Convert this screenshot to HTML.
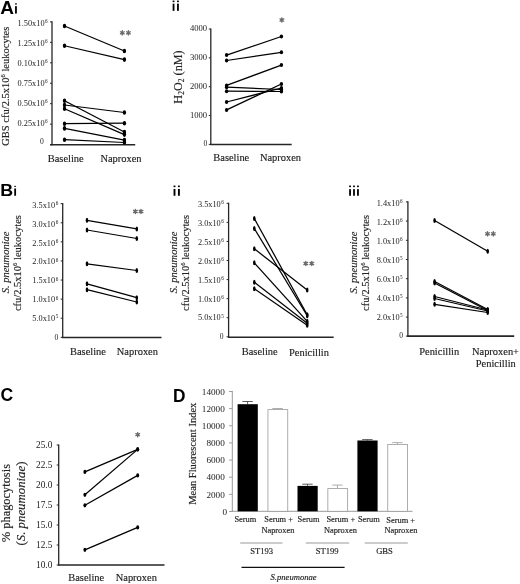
<!DOCTYPE html>
<html><head><meta charset="utf-8"><style>
html,body{margin:0;padding:0;background:#fff;}
svg{display:block;will-change:transform;}
</style></head><body>
<svg width="520" height="584" viewBox="0 0 520 584">
<rect width="520" height="584" fill="#fff"/>
<text x="0" y="0" font-family='"Liberation Sans", sans-serif' font-size="17.6" font-weight="bold" fill="#000" transform="translate(0.3,13.6) scale(1.08,1)">A</text>
<rect x="15.05" y="3.35" width="1.80" height="1.20" fill="#000"/>
<rect x="15.05" y="6.15" width="1.80" height="7.40" fill="#000"/>
<line x1="52" y1="21.299999999999997" x2="52" y2="145.2" stroke="#262626" stroke-width="1.3"/>
<line x1="50" y1="21.9" x2="52" y2="21.9" stroke="#262626" stroke-width="1.0"/>
<text x="47.65" y="25.91" font-family='"Liberation Serif", serif' font-size="8.3" text-anchor="end" font-weight="normal" font-style="normal" fill="#222" stroke="#222" stroke-width="0.0">1.50x10<tspan font-size="5.2" dy="-2.65" dx="0.5">6</tspan></text>
<line x1="50" y1="42.349999999999994" x2="52" y2="42.349999999999994" stroke="#262626" stroke-width="1.0"/>
<text x="47.65" y="45.87" font-family='"Liberation Serif", serif' font-size="8.3" text-anchor="end" font-weight="normal" font-style="normal" fill="#222" stroke="#222" stroke-width="0.0">1.25x10<tspan font-size="5.2" dy="-2.65" dx="0.5">6</tspan></text>
<line x1="50" y1="62.8" x2="52" y2="62.8" stroke="#262626" stroke-width="1.0"/>
<text x="47.65" y="65.83" font-family='"Liberation Serif", serif' font-size="8.3" text-anchor="end" font-weight="normal" font-style="normal" fill="#222" stroke="#222" stroke-width="0.0">0.10x10<tspan font-size="5.2" dy="-2.65" dx="0.5">6</tspan></text>
<line x1="50" y1="83.25" x2="52" y2="83.25" stroke="#262626" stroke-width="1.0"/>
<text x="47.65" y="85.79" font-family='"Liberation Serif", serif' font-size="8.3" text-anchor="end" font-weight="normal" font-style="normal" fill="#222" stroke="#222" stroke-width="0.0">0.75x10<tspan font-size="5.2" dy="-2.65" dx="0.5">6</tspan></text>
<line x1="50" y1="103.69999999999999" x2="52" y2="103.69999999999999" stroke="#262626" stroke-width="1.0"/>
<text x="47.65" y="105.75" font-family='"Liberation Serif", serif' font-size="8.3" text-anchor="end" font-weight="normal" font-style="normal" fill="#222" stroke="#222" stroke-width="0.0">0.50x10<tspan font-size="5.2" dy="-2.65" dx="0.5">6</tspan></text>
<line x1="50" y1="124.15" x2="52" y2="124.15" stroke="#262626" stroke-width="1.0"/>
<text x="47.65" y="125.71" font-family='"Liberation Serif", serif' font-size="8.3" text-anchor="end" font-weight="normal" font-style="normal" fill="#222" stroke="#222" stroke-width="0.0">0.25x10<tspan font-size="5.2" dy="-2.65" dx="0.5">6</tspan></text>
<line x1="50" y1="144.6" x2="52" y2="144.6" stroke="#262626" stroke-width="1.0"/>
<text x="43.85" y="144.47" font-family='"Liberation Serif", serif' font-size="7.6" text-anchor="end" font-weight="normal" font-style="normal" fill="#222" stroke="#222" stroke-width="0.0">0</text>
<line x1="50.0" y1="144.8" x2="135.2" y2="144.8" stroke="#262626" stroke-width="1.6"/>
<line x1="64.5" y1="26" x2="124.4" y2="51" stroke="#000" stroke-width="1.25"/>
<line x1="64.5" y1="45.75" x2="124.4" y2="59.6" stroke="#000" stroke-width="1.25"/>
<line x1="64.5" y1="100.8" x2="124.4" y2="132" stroke="#000" stroke-width="1.25"/>
<line x1="64.5" y1="105" x2="124.4" y2="112.5" stroke="#000" stroke-width="1.25"/>
<line x1="64.5" y1="108.8" x2="124.4" y2="134.6" stroke="#000" stroke-width="1.25"/>
<line x1="64.5" y1="123.7" x2="124.4" y2="123.2" stroke="#000" stroke-width="1.25"/>
<line x1="64.5" y1="128.4" x2="124.4" y2="140.1" stroke="#000" stroke-width="1.25"/>
<line x1="64.5" y1="139.7" x2="124.4" y2="142.5" stroke="#000" stroke-width="1.25"/>
<ellipse cx="64.5" cy="26" rx="1.7" ry="2.3" fill="#000"/>
<ellipse cx="124.4" cy="51" rx="1.7" ry="2.3" fill="#000"/>
<ellipse cx="64.5" cy="45.75" rx="1.7" ry="2.3" fill="#000"/>
<ellipse cx="124.4" cy="59.6" rx="1.7" ry="2.3" fill="#000"/>
<ellipse cx="64.5" cy="100.8" rx="1.7" ry="2.3" fill="#000"/>
<ellipse cx="124.4" cy="132" rx="1.7" ry="2.3" fill="#000"/>
<ellipse cx="64.5" cy="105" rx="1.7" ry="2.3" fill="#000"/>
<ellipse cx="124.4" cy="112.5" rx="1.7" ry="2.3" fill="#000"/>
<ellipse cx="64.5" cy="108.8" rx="1.7" ry="2.3" fill="#000"/>
<ellipse cx="124.4" cy="134.6" rx="1.7" ry="2.3" fill="#000"/>
<ellipse cx="64.5" cy="123.7" rx="1.7" ry="2.3" fill="#000"/>
<ellipse cx="124.4" cy="123.2" rx="1.7" ry="2.3" fill="#000"/>
<ellipse cx="64.5" cy="128.4" rx="1.7" ry="2.3" fill="#000"/>
<ellipse cx="124.4" cy="140.1" rx="1.7" ry="2.3" fill="#000"/>
<ellipse cx="64.5" cy="139.7" rx="1.7" ry="2.3" fill="#000"/>
<ellipse cx="124.4" cy="142.5" rx="1.7" ry="2.3" fill="#000"/>
<path d="M122.30,30.70L122.30,34.90M124.12,31.75L120.48,33.85M124.12,33.85L120.48,31.75" stroke="#6a6a6a" stroke-width="1.4" stroke-linecap="round" fill="none"/>
<path d="M128.40,30.70L128.40,34.90M130.22,31.75L126.58,33.85M130.22,33.85L126.58,31.75" stroke="#6a6a6a" stroke-width="1.4" stroke-linecap="round" fill="none"/>
<text x="65.7" y="162.2" font-family='"Liberation Serif", serif' font-size="10.45" text-anchor="middle" font-weight="normal" font-style="normal" fill="#222"  stroke="#222" stroke-width="0.15">Baseline</text>
<text x="121.0" y="162.2" font-family='"Liberation Serif", serif' font-size="10.45" text-anchor="middle" font-weight="normal" font-style="normal" fill="#222"  stroke="#222" stroke-width="0.15">Naproxen</text>
<text x="0" y="0" font-family='"Liberation Serif", serif' font-size="10.5" text-anchor="middle" font-weight="normal" font-style="normal" fill="#222" transform="translate(8.6,86.2) rotate(-90)" stroke="#222" stroke-width="0.15">GBS cfu/2.5x10<tspan font-size="6.5" dy="-4">6</tspan><tspan dy="4"> leukocytes</tspan></text>
<rect x="172.65" y="0.55" width="1.80" height="1.60" fill="#000"/>
<rect x="172.65" y="3.65" width="1.80" height="7.20" fill="#000"/>
<rect x="177.05" y="0.55" width="1.80" height="1.60" fill="#000"/>
<rect x="177.05" y="3.65" width="1.80" height="7.20" fill="#000"/>
<line x1="210.8" y1="28.4" x2="210.8" y2="145.0" stroke="#262626" stroke-width="1.3"/>
<line x1="208.8" y1="29.0" x2="210.8" y2="29.0" stroke="#262626" stroke-width="1.0"/>
<text x="207.1" y="30.61" font-family='"Liberation Serif", serif' font-size="8.6" text-anchor="end" font-weight="normal" font-style="normal" fill="#222" stroke="#222" stroke-width="0.0">4000</text>
<line x1="208.8" y1="57.85" x2="210.8" y2="57.85" stroke="#262626" stroke-width="1.0"/>
<text x="207.1" y="59.71" font-family='"Liberation Serif", serif' font-size="8.6" text-anchor="end" font-weight="normal" font-style="normal" fill="#222" stroke="#222" stroke-width="0.0">3000</text>
<line x1="208.8" y1="86.7" x2="210.8" y2="86.7" stroke="#262626" stroke-width="1.0"/>
<text x="207.1" y="88.81" font-family='"Liberation Serif", serif' font-size="8.6" text-anchor="end" font-weight="normal" font-style="normal" fill="#222" stroke="#222" stroke-width="0.0">2000</text>
<line x1="208.8" y1="115.55000000000001" x2="210.8" y2="115.55000000000001" stroke="#262626" stroke-width="1.0"/>
<text x="207.1" y="117.91" font-family='"Liberation Serif", serif' font-size="8.6" text-anchor="end" font-weight="normal" font-style="normal" fill="#222" stroke="#222" stroke-width="0.0">1000</text>
<line x1="208.8" y1="144.4" x2="210.8" y2="144.4" stroke="#262626" stroke-width="1.0"/>
<text x="207.35" y="146.27" font-family='"Liberation Serif", serif' font-size="7.6" text-anchor="end" font-weight="normal" font-style="normal" fill="#222" stroke="#222" stroke-width="0.0">0</text>
<line x1="210.2" y1="144.4" x2="291.7" y2="144.4" stroke="#262626" stroke-width="1.5"/>
<line x1="226.6" y1="55.1" x2="281.4" y2="36.5" stroke="#000" stroke-width="1.25"/>
<line x1="226.6" y1="60.5" x2="281.4" y2="52.3" stroke="#000" stroke-width="1.25"/>
<line x1="226.6" y1="85.4" x2="281.4" y2="65.1" stroke="#000" stroke-width="1.25"/>
<line x1="226.6" y1="87.2" x2="281.4" y2="89.5" stroke="#000" stroke-width="1.25"/>
<line x1="226.6" y1="91.2" x2="281.4" y2="91.5" stroke="#000" stroke-width="1.25"/>
<line x1="226.6" y1="102" x2="281.4" y2="88" stroke="#000" stroke-width="1.25"/>
<line x1="226.6" y1="109.9" x2="281.4" y2="84" stroke="#000" stroke-width="1.25"/>
<ellipse cx="226.6" cy="55.1" rx="1.7" ry="2.0" fill="#000"/>
<ellipse cx="281.4" cy="36.5" rx="1.7" ry="2.0" fill="#000"/>
<ellipse cx="226.6" cy="60.5" rx="1.7" ry="2.0" fill="#000"/>
<ellipse cx="281.4" cy="52.3" rx="1.7" ry="2.0" fill="#000"/>
<ellipse cx="226.6" cy="85.4" rx="1.7" ry="2.0" fill="#000"/>
<ellipse cx="281.4" cy="65.1" rx="1.7" ry="2.0" fill="#000"/>
<ellipse cx="226.6" cy="87.2" rx="1.7" ry="2.0" fill="#000"/>
<ellipse cx="281.4" cy="89.5" rx="1.7" ry="2.0" fill="#000"/>
<ellipse cx="226.6" cy="91.2" rx="1.7" ry="2.0" fill="#000"/>
<ellipse cx="281.4" cy="91.5" rx="1.7" ry="2.0" fill="#000"/>
<ellipse cx="226.6" cy="102" rx="1.7" ry="2.0" fill="#000"/>
<ellipse cx="281.4" cy="88" rx="1.7" ry="2.0" fill="#000"/>
<ellipse cx="226.6" cy="109.9" rx="1.7" ry="2.0" fill="#000"/>
<ellipse cx="281.4" cy="84" rx="1.7" ry="2.0" fill="#000"/>
<path d="M281.90,17.90L281.90,22.10M283.72,18.95L280.08,21.05M283.72,21.05L280.08,18.95" stroke="#6a6a6a" stroke-width="1.4" stroke-linecap="round" fill="none"/>
<text x="231.3" y="161.3" font-family='"Liberation Serif", serif' font-size="10.45" text-anchor="middle" font-weight="normal" font-style="normal" fill="#222"  stroke="#222" stroke-width="0.15">Baseline</text>
<text x="280.5" y="161.3" font-family='"Liberation Serif", serif' font-size="10.45" text-anchor="middle" font-weight="normal" font-style="normal" fill="#222"  stroke="#222" stroke-width="0.15">Naproxen</text>
<text x="0" y="0" font-family='"Liberation Serif", serif' font-size="12.2" text-anchor="middle" font-weight="normal" font-style="normal" fill="#222" transform="translate(181.6,77.0) rotate(-90)" stroke="#222" stroke-width="0.15">H<tspan font-size="7.6" dy="2.6">2</tspan><tspan dy="-2.6">O</tspan><tspan font-size="7.6" dy="2.6">2</tspan><tspan dy="-2.6"> (nM)</tspan></text>
<text x="0" y="0" font-family='"Liberation Sans", sans-serif' font-size="17.0" font-weight="bold" fill="#000" transform="translate(0.3,195.8) scale(1.05,1)">B</text>
<rect x="14.25" y="185.85" width="1.80" height="1.00" fill="#000"/>
<rect x="14.25" y="188.45" width="1.80" height="7.30" fill="#000"/>
<line x1="62.7" y1="203.1" x2="62.7" y2="337.90000000000003" stroke="#262626" stroke-width="1.3"/>
<line x1="60.7" y1="203.7" x2="62.7" y2="203.7" stroke="#262626" stroke-width="1.0"/>
<text x="58.25" y="207.81" font-family='"Liberation Serif", serif' font-size="8.3" text-anchor="end" font-weight="normal" font-style="normal" fill="#222" stroke="#222" stroke-width="0.0">3.5x10<tspan font-size="5.2" dy="-2.65" dx="0.5">6</tspan></text>
<line x1="60.7" y1="222.79" x2="62.7" y2="222.79" stroke="#262626" stroke-width="1.0"/>
<text x="58.25" y="226.69" font-family='"Liberation Serif", serif' font-size="8.3" text-anchor="end" font-weight="normal" font-style="normal" fill="#222" stroke="#222" stroke-width="0.0">3.0x10<tspan font-size="5.2" dy="-2.65" dx="0.5">6</tspan></text>
<line x1="60.7" y1="241.88" x2="62.7" y2="241.88" stroke="#262626" stroke-width="1.0"/>
<text x="58.25" y="245.57" font-family='"Liberation Serif", serif' font-size="8.3" text-anchor="end" font-weight="normal" font-style="normal" fill="#222" stroke="#222" stroke-width="0.0">2.5x10<tspan font-size="5.2" dy="-2.65" dx="0.5">6</tspan></text>
<line x1="60.7" y1="260.96999999999997" x2="62.7" y2="260.96999999999997" stroke="#262626" stroke-width="1.0"/>
<text x="58.25" y="264.45" font-family='"Liberation Serif", serif' font-size="8.3" text-anchor="end" font-weight="normal" font-style="normal" fill="#222" stroke="#222" stroke-width="0.0">2.0x10<tspan font-size="5.2" dy="-2.65" dx="0.5">6</tspan></text>
<line x1="60.7" y1="280.06" x2="62.7" y2="280.06" stroke="#262626" stroke-width="1.0"/>
<text x="58.25" y="283.33" font-family='"Liberation Serif", serif' font-size="8.3" text-anchor="end" font-weight="normal" font-style="normal" fill="#222" stroke="#222" stroke-width="0.0">1.5x10<tspan font-size="5.2" dy="-2.65" dx="0.5">6</tspan></text>
<line x1="60.7" y1="299.15" x2="62.7" y2="299.15" stroke="#262626" stroke-width="1.0"/>
<text x="58.25" y="302.21" font-family='"Liberation Serif", serif' font-size="8.3" text-anchor="end" font-weight="normal" font-style="normal" fill="#222" stroke="#222" stroke-width="0.0">1.0x10<tspan font-size="5.2" dy="-2.65" dx="0.5">6</tspan></text>
<line x1="60.7" y1="318.24" x2="62.7" y2="318.24" stroke="#262626" stroke-width="1.0"/>
<text x="58.25" y="321.09" font-family='"Liberation Serif", serif' font-size="8.3" text-anchor="end" font-weight="normal" font-style="normal" fill="#222" stroke="#222" stroke-width="0.0">5.0x10<tspan font-size="5.2" dy="-2.65" dx="0.5">5</tspan></text>
<line x1="60.7" y1="337.33" x2="62.7" y2="337.33" stroke="#262626" stroke-width="1.0"/>
<text x="58.25" y="339.77" font-family='"Liberation Serif", serif' font-size="7.6" text-anchor="end" font-weight="normal" font-style="normal" fill="#222" stroke="#222" stroke-width="0.0">0</text>
<line x1="62.0" y1="337.5" x2="161.5" y2="337.5" stroke="#262626" stroke-width="1.5"/>
<line x1="87" y1="220.3" x2="136.8" y2="228.9" stroke="#000" stroke-width="1.25"/>
<line x1="87" y1="230" x2="136.8" y2="238.5" stroke="#000" stroke-width="1.25"/>
<line x1="87" y1="263.8" x2="136.8" y2="270.5" stroke="#000" stroke-width="1.25"/>
<line x1="87" y1="283.8" x2="136.8" y2="297.7" stroke="#000" stroke-width="1.25"/>
<line x1="87" y1="289.7" x2="136.8" y2="302" stroke="#000" stroke-width="1.25"/>
<ellipse cx="87" cy="220.3" rx="1.3" ry="2.5" fill="#000"/>
<ellipse cx="136.8" cy="228.9" rx="1.3" ry="2.5" fill="#000"/>
<ellipse cx="87" cy="230" rx="1.3" ry="2.5" fill="#000"/>
<ellipse cx="136.8" cy="238.5" rx="1.3" ry="2.5" fill="#000"/>
<ellipse cx="87" cy="263.8" rx="1.3" ry="2.5" fill="#000"/>
<ellipse cx="136.8" cy="270.5" rx="1.3" ry="2.5" fill="#000"/>
<ellipse cx="87" cy="283.8" rx="1.3" ry="2.5" fill="#000"/>
<ellipse cx="136.8" cy="297.7" rx="1.3" ry="2.5" fill="#000"/>
<ellipse cx="87" cy="289.7" rx="1.3" ry="2.5" fill="#000"/>
<ellipse cx="136.8" cy="302" rx="1.3" ry="2.5" fill="#000"/>
<path d="M135.40,209.40L135.40,213.60M137.22,210.45L133.58,212.55M137.22,212.55L133.58,210.45" stroke="#6a6a6a" stroke-width="1.4" stroke-linecap="round" fill="none"/>
<path d="M141.00,209.40L141.00,213.60M142.82,210.45L139.18,212.55M142.82,212.55L139.18,210.45" stroke="#6a6a6a" stroke-width="1.4" stroke-linecap="round" fill="none"/>
<text x="88.0" y="355.0" font-family='"Liberation Serif", serif' font-size="10.45" text-anchor="middle" font-weight="normal" font-style="normal" fill="#222"  stroke="#222" stroke-width="0.15">Baseline</text>
<text x="137.4" y="355.0" font-family='"Liberation Serif", serif' font-size="10.45" text-anchor="middle" font-weight="normal" font-style="normal" fill="#222"  stroke="#222" stroke-width="0.15">Naproxen</text>
<text x="0" y="0" font-family='"Liberation Serif", serif' font-size="10.5" text-anchor="middle" font-weight="normal" font-style="italic" fill="#222" transform="translate(9.3,262.4) rotate(-90)" stroke="#222" stroke-width="0.15">S. pneumoniae</text>
<text x="0" y="0" font-family='"Liberation Serif", serif' font-size="10.5" text-anchor="middle" font-weight="normal" font-style="normal" fill="#222" transform="translate(21,263.1) rotate(-90)" stroke="#222" stroke-width="0.15">cfu/2.5x10<tspan font-size="6.5" dy="-4">6</tspan><tspan dy="4"> leukocytes</tspan></text>
<rect x="173.55" y="185.55" width="1.90" height="1.60" fill="#000"/>
<rect x="173.55" y="188.95" width="1.90" height="6.80" fill="#000"/>
<rect x="177.95" y="185.55" width="1.90" height="1.60" fill="#000"/>
<rect x="177.95" y="188.95" width="1.90" height="6.80" fill="#000"/>
<line x1="228.6" y1="202.70000000000002" x2="228.6" y2="337.70000000000005" stroke="#262626" stroke-width="1.3"/>
<line x1="226.6" y1="203.3" x2="228.6" y2="203.3" stroke="#262626" stroke-width="1.0"/>
<text x="223.85" y="206.66" font-family='"Liberation Serif", serif' font-size="8.3" text-anchor="end" font-weight="normal" font-style="normal" fill="#222" stroke="#222" stroke-width="0.0">3.5x10<tspan font-size="5.2" dy="-2.65" dx="0.5">6</tspan></text>
<line x1="226.6" y1="222.37" x2="228.6" y2="222.37" stroke="#262626" stroke-width="1.0"/>
<text x="223.85" y="225.63" font-family='"Liberation Serif", serif' font-size="8.3" text-anchor="end" font-weight="normal" font-style="normal" fill="#222" stroke="#222" stroke-width="0.0">3.0x10<tspan font-size="5.2" dy="-2.65" dx="0.5">6</tspan></text>
<line x1="226.6" y1="241.44" x2="228.6" y2="241.44" stroke="#262626" stroke-width="1.0"/>
<text x="223.85" y="244.6" font-family='"Liberation Serif", serif' font-size="8.3" text-anchor="end" font-weight="normal" font-style="normal" fill="#222" stroke="#222" stroke-width="0.0">2.5x10<tspan font-size="5.2" dy="-2.65" dx="0.5">6</tspan></text>
<line x1="226.6" y1="260.51" x2="228.6" y2="260.51" stroke="#262626" stroke-width="1.0"/>
<text x="223.85" y="263.57" font-family='"Liberation Serif", serif' font-size="8.3" text-anchor="end" font-weight="normal" font-style="normal" fill="#222" stroke="#222" stroke-width="0.0">2.0x10<tspan font-size="5.2" dy="-2.65" dx="0.5">6</tspan></text>
<line x1="226.6" y1="279.58000000000004" x2="228.6" y2="279.58000000000004" stroke="#262626" stroke-width="1.0"/>
<text x="223.85" y="282.54" font-family='"Liberation Serif", serif' font-size="8.3" text-anchor="end" font-weight="normal" font-style="normal" fill="#222" stroke="#222" stroke-width="0.0">1.5x10<tspan font-size="5.2" dy="-2.65" dx="0.5">6</tspan></text>
<line x1="226.6" y1="298.65" x2="228.6" y2="298.65" stroke="#262626" stroke-width="1.0"/>
<text x="223.85" y="301.51" font-family='"Liberation Serif", serif' font-size="8.3" text-anchor="end" font-weight="normal" font-style="normal" fill="#222" stroke="#222" stroke-width="0.0">1.0x10<tspan font-size="5.2" dy="-2.65" dx="0.5">6</tspan></text>
<line x1="226.6" y1="317.72" x2="228.6" y2="317.72" stroke="#262626" stroke-width="1.0"/>
<text x="223.85" y="320.48" font-family='"Liberation Serif", serif' font-size="8.3" text-anchor="end" font-weight="normal" font-style="normal" fill="#222" stroke="#222" stroke-width="0.0">5.0x10<tspan font-size="5.2" dy="-2.65" dx="0.5">5</tspan></text>
<line x1="226.6" y1="336.79" x2="228.6" y2="336.79" stroke="#262626" stroke-width="1.0"/>
<text x="223.45" y="338.87" font-family='"Liberation Serif", serif' font-size="7.6" text-anchor="end" font-weight="normal" font-style="normal" fill="#222" stroke="#222" stroke-width="0.0">0</text>
<line x1="228.0" y1="337.3" x2="333.7" y2="337.3" stroke="#262626" stroke-width="1.5"/>
<line x1="254.3" y1="218.5" x2="307.2" y2="314.8" stroke="#000" stroke-width="1.25"/>
<line x1="254.3" y1="228.5" x2="307.2" y2="315.8" stroke="#000" stroke-width="1.25"/>
<line x1="254.3" y1="248.8" x2="307.2" y2="290" stroke="#000" stroke-width="1.25"/>
<line x1="254.3" y1="262.8" x2="307.2" y2="321.3" stroke="#000" stroke-width="1.25"/>
<line x1="254.3" y1="282.3" x2="307.2" y2="323.2" stroke="#000" stroke-width="1.25"/>
<line x1="254.3" y1="288.8" x2="307.2" y2="325.2" stroke="#000" stroke-width="1.25"/>
<ellipse cx="254.3" cy="218.5" rx="1.3" ry="2.5" fill="#000"/>
<ellipse cx="307.2" cy="314.8" rx="1.3" ry="2.5" fill="#000"/>
<ellipse cx="254.3" cy="228.5" rx="1.3" ry="2.5" fill="#000"/>
<ellipse cx="307.2" cy="315.8" rx="1.3" ry="2.5" fill="#000"/>
<ellipse cx="254.3" cy="248.8" rx="1.3" ry="2.5" fill="#000"/>
<ellipse cx="307.2" cy="290" rx="1.3" ry="2.5" fill="#000"/>
<ellipse cx="254.3" cy="262.8" rx="1.3" ry="2.5" fill="#000"/>
<ellipse cx="307.2" cy="321.3" rx="1.3" ry="2.5" fill="#000"/>
<ellipse cx="254.3" cy="282.3" rx="1.3" ry="2.5" fill="#000"/>
<ellipse cx="307.2" cy="323.2" rx="1.3" ry="2.5" fill="#000"/>
<ellipse cx="254.3" cy="288.8" rx="1.3" ry="2.5" fill="#000"/>
<ellipse cx="307.2" cy="325.2" rx="1.3" ry="2.5" fill="#000"/>
<path d="M305.80,261.40L305.80,265.60M307.62,262.45L303.98,264.55M307.62,264.55L303.98,262.45" stroke="#6a6a6a" stroke-width="1.4" stroke-linecap="round" fill="none"/>
<path d="M311.80,261.40L311.80,265.60M313.62,262.45L309.98,264.55M313.62,264.55L309.98,262.45" stroke="#6a6a6a" stroke-width="1.4" stroke-linecap="round" fill="none"/>
<text x="259.7" y="355.3" font-family='"Liberation Serif", serif' font-size="10.45" text-anchor="middle" font-weight="normal" font-style="normal" fill="#222"  stroke="#222" stroke-width="0.15">Baseline</text>
<text x="309.0" y="355.5" font-family='"Liberation Serif", serif' font-size="10.45" text-anchor="middle" font-weight="normal" font-style="normal" fill="#222"  stroke="#222" stroke-width="0.15">Penicillin</text>
<text x="0" y="0" font-family='"Liberation Serif", serif' font-size="10.5" text-anchor="middle" font-weight="normal" font-style="italic" fill="#222" transform="translate(176.6,262.4) rotate(-90)" stroke="#222" stroke-width="0.15">S. pneumoniae</text>
<text x="0" y="0" font-family='"Liberation Serif", serif' font-size="10.5" text-anchor="middle" font-weight="normal" font-style="normal" fill="#222" transform="translate(188.7,262.9) rotate(-90)" stroke="#222" stroke-width="0.15">cfu/2.5x10<tspan font-size="6.5" dy="-4">6</tspan><tspan dy="4"> leukocytes</tspan></text>
<rect x="349.15" y="185.55" width="1.80" height="1.60" fill="#000"/>
<rect x="349.15" y="189.15" width="1.80" height="6.60" fill="#000"/>
<rect x="353.10" y="185.55" width="1.80" height="1.60" fill="#000"/>
<rect x="353.10" y="189.15" width="1.80" height="6.60" fill="#000"/>
<rect x="357.05" y="185.55" width="1.80" height="1.60" fill="#000"/>
<rect x="357.05" y="189.15" width="1.80" height="6.60" fill="#000"/>
<line x1="407.9" y1="201.3" x2="407.9" y2="336.70000000000005" stroke="#262626" stroke-width="1.3"/>
<line x1="405.9" y1="201.9" x2="407.9" y2="201.9" stroke="#262626" stroke-width="1.0"/>
<text x="402.65" y="205.91" font-family='"Liberation Serif", serif' font-size="8.3" text-anchor="end" font-weight="normal" font-style="normal" fill="#222" stroke="#222" stroke-width="0.0">1.4x10<tspan font-size="5.2" dy="-2.65" dx="0.5">6</tspan></text>
<line x1="405.9" y1="221.1" x2="407.9" y2="221.1" stroke="#262626" stroke-width="1.0"/>
<text x="402.65" y="224.89" font-family='"Liberation Serif", serif' font-size="8.3" text-anchor="end" font-weight="normal" font-style="normal" fill="#222" stroke="#222" stroke-width="0.0">1.2x10<tspan font-size="5.2" dy="-2.65" dx="0.5">6</tspan></text>
<line x1="405.9" y1="240.3" x2="407.9" y2="240.3" stroke="#262626" stroke-width="1.0"/>
<text x="402.65" y="243.87" font-family='"Liberation Serif", serif' font-size="8.3" text-anchor="end" font-weight="normal" font-style="normal" fill="#222" stroke="#222" stroke-width="0.0">1.0x10<tspan font-size="5.2" dy="-2.65" dx="0.5">6</tspan></text>
<line x1="405.9" y1="259.5" x2="407.9" y2="259.5" stroke="#262626" stroke-width="1.0"/>
<text x="402.65" y="262.85" font-family='"Liberation Serif", serif' font-size="8.3" text-anchor="end" font-weight="normal" font-style="normal" fill="#222" stroke="#222" stroke-width="0.0">8.0x10<tspan font-size="5.2" dy="-2.65" dx="0.5">5</tspan></text>
<line x1="405.9" y1="278.7" x2="407.9" y2="278.7" stroke="#262626" stroke-width="1.0"/>
<text x="402.65" y="281.83" font-family='"Liberation Serif", serif' font-size="8.3" text-anchor="end" font-weight="normal" font-style="normal" fill="#222" stroke="#222" stroke-width="0.0">6.0x10<tspan font-size="5.2" dy="-2.65" dx="0.5">5</tspan></text>
<line x1="405.9" y1="297.9" x2="407.9" y2="297.9" stroke="#262626" stroke-width="1.0"/>
<text x="402.65" y="300.81" font-family='"Liberation Serif", serif' font-size="8.3" text-anchor="end" font-weight="normal" font-style="normal" fill="#222" stroke="#222" stroke-width="0.0">4.0x10<tspan font-size="5.2" dy="-2.65" dx="0.5">5</tspan></text>
<line x1="405.9" y1="317.1" x2="407.9" y2="317.1" stroke="#262626" stroke-width="1.0"/>
<text x="402.65" y="319.79" font-family='"Liberation Serif", serif' font-size="8.3" text-anchor="end" font-weight="normal" font-style="normal" fill="#222" stroke="#222" stroke-width="0.0">2.0x10<tspan font-size="5.2" dy="-2.65" dx="0.5">5</tspan></text>
<line x1="405.9" y1="336.1" x2="407.9" y2="336.1" stroke="#262626" stroke-width="1.0"/>
<text x="403.05" y="337.92" font-family='"Liberation Serif", serif' font-size="7.6" text-anchor="end" font-weight="normal" font-style="normal" fill="#222" stroke="#222" stroke-width="0.0">0</text>
<line x1="407.3" y1="336.1" x2="514.2" y2="336.1" stroke="#262626" stroke-width="1.6"/>
<line x1="434.6" y1="220.5" x2="487.7" y2="251.2" stroke="#000" stroke-width="1.25"/>
<line x1="434.6" y1="281.5" x2="487.7" y2="309.5" stroke="#000" stroke-width="1.25"/>
<line x1="434.6" y1="283" x2="487.7" y2="310.5" stroke="#000" stroke-width="1.25"/>
<line x1="434.6" y1="296.5" x2="487.7" y2="310" stroke="#000" stroke-width="1.25"/>
<line x1="434.6" y1="298.5" x2="487.7" y2="311" stroke="#000" stroke-width="1.25"/>
<line x1="434.6" y1="304.3" x2="487.7" y2="312.5" stroke="#000" stroke-width="1.25"/>
<ellipse cx="434.6" cy="220.5" rx="1.3" ry="2.5" fill="#000"/>
<ellipse cx="487.7" cy="251.2" rx="1.3" ry="2.5" fill="#000"/>
<ellipse cx="434.6" cy="281.5" rx="1.3" ry="2.5" fill="#000"/>
<ellipse cx="487.7" cy="309.5" rx="1.3" ry="2.5" fill="#000"/>
<ellipse cx="434.6" cy="283" rx="1.3" ry="2.5" fill="#000"/>
<ellipse cx="487.7" cy="310.5" rx="1.3" ry="2.5" fill="#000"/>
<ellipse cx="434.6" cy="296.5" rx="1.3" ry="2.5" fill="#000"/>
<ellipse cx="487.7" cy="310" rx="1.3" ry="2.5" fill="#000"/>
<ellipse cx="434.6" cy="298.5" rx="1.3" ry="2.5" fill="#000"/>
<ellipse cx="487.7" cy="311" rx="1.3" ry="2.5" fill="#000"/>
<ellipse cx="434.6" cy="304.3" rx="1.3" ry="2.5" fill="#000"/>
<ellipse cx="487.7" cy="312.5" rx="1.3" ry="2.5" fill="#000"/>
<path d="M487.50,231.70L487.50,235.90M489.32,232.75L485.68,234.85M489.32,234.85L485.68,232.75" stroke="#6a6a6a" stroke-width="1.4" stroke-linecap="round" fill="none"/>
<path d="M493.30,231.70L493.30,235.90M495.12,232.75L491.48,234.85M495.12,234.85L491.48,232.75" stroke="#6a6a6a" stroke-width="1.4" stroke-linecap="round" fill="none"/>
<text x="439.2" y="355.0" font-family='"Liberation Serif", serif' font-size="10.45" text-anchor="middle" font-weight="normal" font-style="normal" fill="#222"  stroke="#222" stroke-width="0.15">Penicillin</text>
<text x="495.5" y="355.0" font-family='"Liberation Serif", serif' font-size="10.45" text-anchor="middle" font-weight="normal" font-style="normal" fill="#222"  stroke="#222" stroke-width="0.15">Naproxen+</text>
<text x="495.8" y="367.1" font-family='"Liberation Serif", serif' font-size="10.45" text-anchor="middle" font-weight="normal" font-style="normal" fill="#222"  stroke="#222" stroke-width="0.15">Penicillin</text>
<text x="0" y="0" font-family='"Liberation Serif", serif' font-size="10.5" text-anchor="middle" font-weight="normal" font-style="italic" fill="#222" transform="translate(357,262.6) rotate(-90)" stroke="#222" stroke-width="0.15">S. pneumoniae</text>
<text x="0" y="0" font-family='"Liberation Serif", serif' font-size="10.5" text-anchor="middle" font-weight="normal" font-style="normal" fill="#222" transform="translate(368.5,262.9) rotate(-90)" stroke="#222" stroke-width="0.15">cfu/2.5x10<tspan font-size="6.5" dy="-4">6</tspan><tspan dy="4"> leukocytes</tspan></text>
<text x="0" y="0" font-family='"Liberation Sans", sans-serif' font-size="17.6" font-weight="bold" fill="#000" transform="translate(0.4,400.9) scale(1.0,1)">C</text>
<line x1="58.7" y1="444.4" x2="58.7" y2="565.6" stroke="#262626" stroke-width="1.3"/>
<line x1="56.7" y1="445.0" x2="58.7" y2="445.0" stroke="#262626" stroke-width="1.0"/>
<text x="52.3" y="447.99" font-family='"Liberation Serif", serif' font-size="9.3" text-anchor="end" font-weight="normal" font-style="normal" fill="#222" stroke="#222" stroke-width="0.0">25.0</text>
<line x1="56.7" y1="465.0" x2="58.7" y2="465.0" stroke="#262626" stroke-width="1.0"/>
<text x="52.3" y="468.04" font-family='"Liberation Serif", serif' font-size="9.3" text-anchor="end" font-weight="normal" font-style="normal" fill="#222" stroke="#222" stroke-width="0.0">22.5</text>
<line x1="56.7" y1="485.0" x2="58.7" y2="485.0" stroke="#262626" stroke-width="1.0"/>
<text x="52.3" y="488.09" font-family='"Liberation Serif", serif' font-size="9.3" text-anchor="end" font-weight="normal" font-style="normal" fill="#222" stroke="#222" stroke-width="0.0">20.0</text>
<line x1="56.7" y1="505.0" x2="58.7" y2="505.0" stroke="#262626" stroke-width="1.0"/>
<text x="52.3" y="508.14" font-family='"Liberation Serif", serif' font-size="9.3" text-anchor="end" font-weight="normal" font-style="normal" fill="#222" stroke="#222" stroke-width="0.0">17.5</text>
<line x1="56.7" y1="525.0" x2="58.7" y2="525.0" stroke="#262626" stroke-width="1.0"/>
<text x="52.3" y="528.19" font-family='"Liberation Serif", serif' font-size="9.3" text-anchor="end" font-weight="normal" font-style="normal" fill="#222" stroke="#222" stroke-width="0.0">15.0</text>
<line x1="56.7" y1="545.0" x2="58.7" y2="545.0" stroke="#262626" stroke-width="1.0"/>
<text x="52.3" y="548.24" font-family='"Liberation Serif", serif' font-size="9.3" text-anchor="end" font-weight="normal" font-style="normal" fill="#222" stroke="#222" stroke-width="0.0">12.5</text>
<line x1="56.7" y1="565.0" x2="58.7" y2="565.0" stroke="#262626" stroke-width="1.0"/>
<text x="52.3" y="568.29" font-family='"Liberation Serif", serif' font-size="9.3" text-anchor="end" font-weight="normal" font-style="normal" fill="#222" stroke="#222" stroke-width="0.0">10.0</text>
<line x1="58.1" y1="565.0" x2="164.5" y2="565.0" stroke="#262626" stroke-width="1.5"/>
<line x1="84.9" y1="471.9" x2="137.7" y2="449.4" stroke="#000" stroke-width="1.25"/>
<line x1="84.9" y1="494.8" x2="137.7" y2="449.4" stroke="#000" stroke-width="1.25"/>
<line x1="84.9" y1="505.3" x2="137.7" y2="475.4" stroke="#000" stroke-width="1.25"/>
<line x1="84.9" y1="549.8" x2="137.7" y2="527.4" stroke="#000" stroke-width="1.25"/>
<ellipse cx="84.9" cy="471.9" rx="1.5" ry="2.1" fill="#000"/>
<ellipse cx="137.7" cy="449.4" rx="1.5" ry="2.1" fill="#000"/>
<ellipse cx="84.9" cy="494.8" rx="1.5" ry="2.1" fill="#000"/>
<ellipse cx="137.7" cy="449.4" rx="1.5" ry="2.1" fill="#000"/>
<ellipse cx="84.9" cy="505.3" rx="1.5" ry="2.1" fill="#000"/>
<ellipse cx="137.7" cy="475.4" rx="1.5" ry="2.1" fill="#000"/>
<ellipse cx="84.9" cy="549.8" rx="1.5" ry="2.1" fill="#000"/>
<ellipse cx="137.7" cy="527.4" rx="1.5" ry="2.1" fill="#000"/>
<path d="M137.70,432.60L137.70,436.80M139.52,433.65L135.88,435.75M139.52,435.75L135.88,433.65" stroke="#6a6a6a" stroke-width="1.4" stroke-linecap="round" fill="none"/>
<text x="86.2" y="580.8" font-family='"Liberation Serif", serif' font-size="10.45" text-anchor="middle" font-weight="normal" font-style="normal" fill="#222"  stroke="#222" stroke-width="0.15">Baseline</text>
<text x="136.3" y="580.8" font-family='"Liberation Serif", serif' font-size="10.45" text-anchor="middle" font-weight="normal" font-style="normal" fill="#222"  stroke="#222" stroke-width="0.15">Naproxen</text>
<text x="0" y="0" font-family='"Liberation Serif", serif' font-size="12.4" text-anchor="middle" font-weight="normal" font-style="normal" fill="#222" transform="translate(10.0,503.1) rotate(-90)" stroke="#222" stroke-width="0.15">% phagocytosis</text>
<text x="0" y="0" font-family='"Liberation Serif", serif' font-size="12.8" text-anchor="middle" font-weight="normal" font-style="normal" fill="#222" transform="translate(25.3,503.5) rotate(-90)" stroke="#222" stroke-width="0.15">(<tspan font-style="italic">S. pneumoniae</tspan>)</text>
<text x="0" y="0" font-family='"Liberation Sans", sans-serif' font-size="18.0" font-weight="bold" fill="#000" transform="translate(172.9,401.5) scale(0.96,1)">D</text>
<line x1="232.3" y1="390.9" x2="232.3" y2="511.90000000000003" stroke="#999" stroke-width="1.0"/>
<line x1="229.10000000000002" y1="391.5" x2="232.3" y2="391.5" stroke="#999" stroke-width="1.0"/>
<text x="224.8" y="394.7" font-family='"Liberation Serif", serif' font-size="9.2" text-anchor="end" font-weight="normal" font-style="normal" fill="#222" stroke="#222" stroke-width="0.0">14000</text>
<line x1="229.10000000000002" y1="408.64" x2="232.3" y2="408.64" stroke="#999" stroke-width="1.0"/>
<text x="224.8" y="411.84" font-family='"Liberation Serif", serif' font-size="9.2" text-anchor="end" font-weight="normal" font-style="normal" fill="#222" stroke="#222" stroke-width="0.0">12000</text>
<line x1="229.10000000000002" y1="425.78" x2="232.3" y2="425.78" stroke="#999" stroke-width="1.0"/>
<text x="224.8" y="428.98" font-family='"Liberation Serif", serif' font-size="9.2" text-anchor="end" font-weight="normal" font-style="normal" fill="#222" stroke="#222" stroke-width="0.0">10000</text>
<line x1="229.10000000000002" y1="442.92" x2="232.3" y2="442.92" stroke="#999" stroke-width="1.0"/>
<text x="224.8" y="446.12" font-family='"Liberation Serif", serif' font-size="9.2" text-anchor="end" font-weight="normal" font-style="normal" fill="#222" stroke="#222" stroke-width="0.0">8000</text>
<line x1="229.10000000000002" y1="460.06" x2="232.3" y2="460.06" stroke="#999" stroke-width="1.0"/>
<text x="224.8" y="463.26" font-family='"Liberation Serif", serif' font-size="9.2" text-anchor="end" font-weight="normal" font-style="normal" fill="#222" stroke="#222" stroke-width="0.0">6000</text>
<line x1="229.10000000000002" y1="477.2" x2="232.3" y2="477.2" stroke="#999" stroke-width="1.0"/>
<text x="224.8" y="480.4" font-family='"Liberation Serif", serif' font-size="9.2" text-anchor="end" font-weight="normal" font-style="normal" fill="#222" stroke="#222" stroke-width="0.0">4000</text>
<line x1="229.10000000000002" y1="494.34000000000003" x2="232.3" y2="494.34000000000003" stroke="#999" stroke-width="1.0"/>
<text x="224.8" y="497.54" font-family='"Liberation Serif", serif' font-size="9.2" text-anchor="end" font-weight="normal" font-style="normal" fill="#222" stroke="#222" stroke-width="0.0">2000</text>
<line x1="229.10000000000002" y1="511.48" x2="232.3" y2="511.48" stroke="#999" stroke-width="1.0"/>
<line x1="231.8" y1="511.3" x2="412.5" y2="511.3" stroke="#999" stroke-width="1.0"/>
<text x="227.2" y="514.5" font-family='"Liberation Serif", serif' font-size="9.2" text-anchor="end" font-weight="normal" font-style="normal" fill="#222" stroke="#222" stroke-width="0.0">0</text>
<line x1="247.6" y1="404.2" x2="247.6" y2="401.5" stroke="#333" stroke-width="0.8"/>
<line x1="242.4" y1="401.5" x2="252.79999999999998" y2="401.5" stroke="#333" stroke-width="0.8"/>
<rect x="237.6" y="404.2" width="20.2" height="107.10000000000002" fill="#000"/>
<line x1="277.55" y1="409.2" x2="277.55" y2="408.5" stroke="#999" stroke-width="0.8"/>
<line x1="272.35" y1="408.5" x2="282.75" y2="408.5" stroke="#999" stroke-width="0.8"/>
<rect x="267.95" y="409.59999999999997" width="19.8" height="101.70000000000002" fill="#fff" stroke="#999" stroke-width="0.8"/>
<line x1="307.5" y1="485.9" x2="307.5" y2="484.2" stroke="#333" stroke-width="0.8"/>
<line x1="302.3" y1="484.2" x2="312.7" y2="484.2" stroke="#333" stroke-width="0.8"/>
<rect x="297.5" y="485.9" width="20.2" height="25.400000000000034" fill="#000"/>
<line x1="337.45" y1="488.2" x2="337.45" y2="485.1" stroke="#999" stroke-width="0.8"/>
<line x1="332.25" y1="485.1" x2="342.65" y2="485.1" stroke="#999" stroke-width="0.8"/>
<rect x="327.84999999999997" y="488.59999999999997" width="19.8" height="22.700000000000024" fill="#fff" stroke="#999" stroke-width="0.8"/>
<line x1="367.4" y1="440.5" x2="367.4" y2="439.6" stroke="#333" stroke-width="0.8"/>
<line x1="362.2" y1="439.6" x2="372.59999999999997" y2="439.6" stroke="#333" stroke-width="0.8"/>
<rect x="357.4" y="440.5" width="20.2" height="70.80000000000001" fill="#000"/>
<line x1="397.35" y1="444.0" x2="397.35" y2="442.6" stroke="#999" stroke-width="0.8"/>
<line x1="392.15000000000003" y1="442.6" x2="402.55" y2="442.6" stroke="#999" stroke-width="0.8"/>
<rect x="387.75" y="444.4" width="19.8" height="66.9" fill="#fff" stroke="#999" stroke-width="0.8"/>
<text x="245.4" y="522.0" font-family='"Liberation Serif", serif' font-size="8.4" text-anchor="middle" font-weight="normal" font-style="normal" fill="#222"  stroke="#222" stroke-width="0.15">Serum</text>
<text x="308.5" y="522.0" font-family='"Liberation Serif", serif' font-size="8.4" text-anchor="middle" font-weight="normal" font-style="normal" fill="#222"  stroke="#222" stroke-width="0.15">Serum</text>
<text x="368.9" y="522.0" font-family='"Liberation Serif", serif' font-size="8.4" text-anchor="middle" font-weight="normal" font-style="normal" fill="#222"  stroke="#222" stroke-width="0.15">Serum</text>
<text x="278.6" y="522.2" font-family='"Liberation Serif", serif' font-size="8.4" text-anchor="middle" font-weight="normal" font-style="normal" fill="#222"  stroke="#222" stroke-width="0.15">Serum +</text>
<text x="277.9" y="532.7" font-family='"Liberation Serif", serif' font-size="8.4" text-anchor="middle" font-weight="normal" font-style="normal" fill="#222"  stroke="#222" stroke-width="0.15">Naproxen</text>
<text x="340.8" y="522.4000000000001" font-family='"Liberation Serif", serif' font-size="8.4" text-anchor="middle" font-weight="normal" font-style="normal" fill="#222"  stroke="#222" stroke-width="0.15">Serum +</text>
<text x="340.4" y="532.9000000000001" font-family='"Liberation Serif", serif' font-size="8.4" text-anchor="middle" font-weight="normal" font-style="normal" fill="#222"  stroke="#222" stroke-width="0.15">Naproxen</text>
<text x="400.7" y="522.8000000000001" font-family='"Liberation Serif", serif' font-size="8.4" text-anchor="middle" font-weight="normal" font-style="normal" fill="#222"  stroke="#222" stroke-width="0.15">Serum +</text>
<text x="400.9" y="533.3000000000001" font-family='"Liberation Serif", serif' font-size="8.4" text-anchor="middle" font-weight="normal" font-style="normal" fill="#222"  stroke="#222" stroke-width="0.15">Naproxen</text>
<line x1="240.2" y1="543.0" x2="282.5" y2="543.0" stroke="#999" stroke-width="1.0"/>
<line x1="305.8" y1="543.0" x2="349.2" y2="543.0" stroke="#999" stroke-width="1.0"/>
<line x1="364.8" y1="543.0" x2="407.8" y2="543.0" stroke="#999" stroke-width="1.0"/>
<text x="261.7" y="554.4" font-family='"Liberation Serif", serif' font-size="8.6" text-anchor="middle" font-weight="normal" font-style="normal" fill="#222"  stroke="#222" stroke-width="0.15">ST193</text>
<text x="327.1" y="554.4" font-family='"Liberation Serif", serif' font-size="8.6" text-anchor="middle" font-weight="normal" font-style="normal" fill="#222"  stroke="#222" stroke-width="0.15">ST199</text>
<text x="384.5" y="554.4" font-family='"Liberation Serif", serif' font-size="8.6" text-anchor="middle" font-weight="normal" font-style="normal" fill="#222"  stroke="#222" stroke-width="0.15">GBS</text>
<line x1="241.5" y1="567.3" x2="344.6" y2="567.3" stroke="#111" stroke-width="1.3"/>
<text x="293.6" y="580.0" font-family='"Liberation Serif", serif' font-size="8.6" text-anchor="middle" font-weight="normal" font-style="italic" fill="#222"  stroke="#222" stroke-width="0.15">S.pneumonae</text>
<text x="0" y="0" font-family='"Liberation Serif", serif' font-size="10.5" text-anchor="middle" font-weight="normal" font-style="normal" fill="#222" transform="translate(195.7,453.7) rotate(-90)" stroke="#222" stroke-width="0.15">Mean Fluorescent Index</text>
</svg>
</body></html>
